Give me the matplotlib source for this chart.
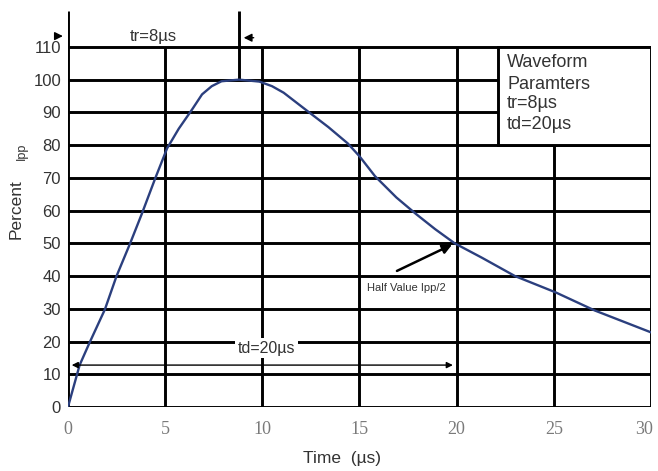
import matplotlib
matplotlib.use("Agg")
import matplotlib.pyplot as plt
from matplotlib.patches import Rectangle
from matplotlib.transforms import ScaledTranslation

# ---- data ----
time_us = [0, 0.6, 1.1, 1.9, 2.5, 3.2, 3.8, 4.5, 5.1, 5.7, 6.4, 6.9, 7.4, 7.9,
           8.8, 9.85, 10.5, 11.1, 12.3, 13.4, 14.4, 15.0, 15.8, 16.9, 17.9,
           18.9, 19.9, 21.3, 23.0, 25.1, 27.1, 30.0]
percent = [0, 12.8, 19.5, 29.8, 40, 50, 59, 70, 79, 85, 91, 95.5, 98, 99.5,
           100, 99.4, 98, 96, 90.5, 85.5, 80.5, 76.6, 70.5, 64, 59,
           54.3, 50, 45.6, 40, 35, 29.5, 22.8]
x_ticks = [0, 5, 10, 15, 20, 25, 30]
y_ticks = [0, 10, 20, 30, 40, 50, 60, 70, 80, 90, 100, 110]
tr_value = 8.8        # position of the peak marker line
td_value = 20
half_value = (19.9, 50)
box_lines = ["Waveform", "Paramters", "tr=8\u00b5s", "td=20\u00b5s"]

fig = plt.figure(figsize=(6.58, 4.71), dpi=100)
ax = fig.add_axes([0.1033, 0.1359, 0.886, 0.841])
ax.set_xlim(0, 30)
ax.set_ylim(0, 121)
for s in ax.spines.values():
    s.set_visible(False)

grid_lw = 2.1
# horizontal grid
ax.hlines(y_ticks, 0, 30, colors="black", linewidth=grid_lw, zorder=1)
# vertical grid
ax.vlines(x_ticks[1:], 0, 110, colors="black", linewidth=grid_lw, zorder=1)
# left axis extends above
ax.vlines([0], 0, 121, colors="black", linewidth=grid_lw, zorder=1)
# tr marker line
ax.vlines([tr_value], 100, 121, colors="black", linewidth=grid_lw, zorder=1)

# parameter box
ax.add_patch(Rectangle((22.13, 80), 30 - 22.13, 30, facecolor="white",
                       edgecolor="black", linewidth=grid_lw, zorder=3))
box_y = [105.2, 98.4, 92.6, 86.4]
for txt, yy in zip(box_lines, box_y):
    ax.text(22.6, yy, txt, fontsize=13, color="#333333", family="Liberation Sans",
            va="center", ha="left", zorder=4)

# curve
ax.plot(time_us, percent, color="#2b3f7e", linewidth=1.7, zorder=2,
        solid_joinstyle="round")

# ticks
ax.set_xticks(x_ticks)
ax.set_yticks(y_ticks)
ax.tick_params(length=0)
ax.tick_params(axis="x", pad=10)
ax.tick_params(axis="y", pad=5)
for lab in ax.get_xticklabels():
    lab.set_family("Liberation Serif")
    lab.set_fontsize(13)
    lab.set_color("#7a7a7a")
last = ax.get_xticklabels()[-1]
last.set_transform(last.get_transform() + ScaledTranslation(-0.07, 0, fig.dpi_scale_trans))
for lab in ax.get_yticklabels():
    lab.set_family("Liberation Sans")
    lab.set_fontsize(12)
    lab.set_color("#333333")

# axis labels
fig.text(0.52, 0.027, "Time  (\u00b5s)", fontsize=12.5, color="#333333",
         family="Liberation Sans", ha="center", va="center")
fig.text(0.024, 0.555, "Percent", fontsize=12.5, color="#333333",
         family="Liberation Sans", rotation=90, ha="center", va="center")
fig.text(0.034, 0.678, "Ipp", fontsize=9, color="#333333",
         family="Liberation Sans", rotation=90, ha="center", va="center")

# tr annotation
ax.text(4.4, 113.3, "tr=8\u00b5s", fontsize=12, color="#333333",
        family="Liberation Sans", ha="center", va="center")
ax.annotate("", xy=(-0.12, 113.3), xytext=(-0.8, 113.3),
            arrowprops=dict(arrowstyle="-|>", color="black", lw=1,
                            mutation_scale=12), annotation_clip=False)
ax.annotate("", xy=(tr_value + 0.1, 112.8), xytext=(tr_value + 0.9, 112.8),
            arrowprops=dict(arrowstyle="-|>", color="black", lw=1,
                            mutation_scale=12), annotation_clip=False)

# td annotation
ax.annotate("", xy=(0.05, 12.8), xytext=(td_value - 0.05, 12.8),
            arrowprops=dict(arrowstyle="<|-|>", color="black", lw=1,
                            mutation_scale=9), zorder=2)
ax.text(10.2, 18.0, "td=20\u00b5s", fontsize=11.5, color="#333333",
        family="Liberation Sans", ha="center", va="center", zorder=3,
        bbox=dict(facecolor="white", edgecolor="none", pad=2))

# half value annotation
ax.annotate("", xy=half_value, xytext=(16.8, 41.2),
            arrowprops=dict(arrowstyle="-|>", color="black", lw=1.8,
                            mutation_scale=14), zorder=3)
ax.text(17.4, 36.5, "Half Value Ipp/2", fontsize=8, color="#333333",
        family="Liberation Sans", ha="center", va="center", zorder=3)

fig.savefig("out.png", dpi=100)
